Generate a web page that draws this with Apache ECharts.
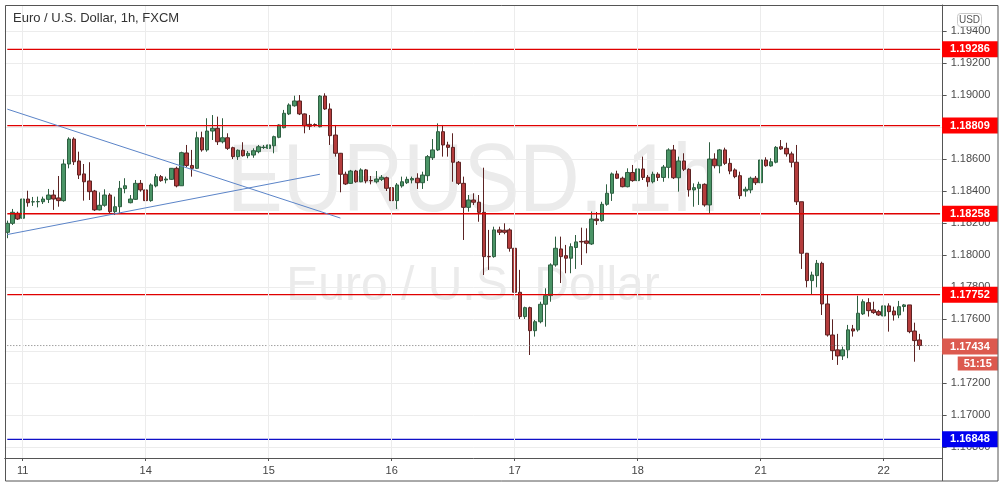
<!DOCTYPE html>
<html><head><meta charset="utf-8">
<script src="https://cdn.jsdelivr.net/npm/echarts@6.0.0/dist/echarts.min.js"></script>
<style>html,body{margin:0;padding:0;background:#fff}#c{width:1005px;height:488px}</style>
</head><body><div id="c"></div>
<script>
// trading sessions: [day, firstHour, lastHour]
const sessions = [['10',21,23],['11',0,20],['13',21,23],['14',0,23],['15',0,23],['16',0,23],['17',0,23],['18',0,20],['20',21,23],['21',0,23],['22',0,7]];
const emptySlots = 4;

const opens = [1.18142,1.18198,1.18261,1.18230,1.18350,1.18332,1.18333,1.18333,1.18348,1.18375,1.18357,1.18340,1.18569,1.18725,1.18588,1.18507,1.18463,1.18400,1.18282,1.18311,1.18375,1.18271,1.18302,1.18415,1.18327,1.18348,1.18448,1.18407,1.18340,1.18432,1.18490,1.18469,1.18473,1.18542,1.18433,1.18638,1.18560,1.18542,1.18733,1.18657,1.18775,1.18792,1.18708,1.18733,1.18671,1.18615,1.18655,1.18621,1.18625,1.18646,1.18672,1.18667,1.18683,1.18736,1.18796,1.18882,1.18933,1.18963,1.18882,1.18817,1.18816,1.18802,1.18994,1.18913,1.18750,1.18636,1.18505,1.18448,1.18525,1.18458,1.18532,1.18466,1.18458,1.18473,1.18483,1.18421,1.18340,1.18432,1.18452,1.18469,1.18480,1.18452,1.18496,1.18608,1.18657,1.18771,1.18688,1.18673,1.18580,1.18448,1.18298,1.18344,1.18330,1.18267,1.17991,1.17990,1.18157,1.18155,1.18157,1.18042,1.17767,1.17615,1.17671,1.17527,1.17583,1.17692,1.17746,1.17938,1.18038,1.17996,1.17980,1.18047,1.18085,1.18088,1.18069,1.18225,1.18215,1.18317,1.18386,1.18507,1.18480,1.18427,1.18516,1.18465,1.18538,1.18486,1.18458,1.18505,1.18485,1.18548,1.18657,1.18483,1.18588,1.18536,1.18407,1.18417,1.18442,1.18313,1.18600,1.18558,1.18657,1.18573,1.18532,1.18496,1.18400,1.18407,1.18480,1.18452,1.18594,1.18557,1.18580,1.18677,1.18667,1.18632,1.18580,1.18333,1.18011,1.17840,1.17871,1.17948,1.17694,1.17500,1.17407,1.17369,1.17407,1.17538,1.17532,1.17632,1.17702,1.17657,1.17646,1.17619,1.17682,1.17650,1.17625,1.17678,1.17688,1.17525,1.17469];
const closes = [1.18198,1.18267,1.18225,1.18350,1.18327,1.18333,1.18334,1.18350,1.18375,1.18350,1.18340,1.18569,1.18725,1.18583,1.18500,1.18458,1.18396,1.18282,1.18311,1.18375,1.18271,1.18302,1.18417,1.18433,1.18350,1.18448,1.18407,1.18340,1.18438,1.18490,1.18465,1.18475,1.18542,1.18432,1.18640,1.18560,1.18542,1.18733,1.18657,1.18775,1.18792,1.18708,1.18733,1.18667,1.18615,1.18655,1.18621,1.18636,1.18652,1.18677,1.18674,1.18688,1.18740,1.18813,1.18886,1.18938,1.18963,1.18882,1.18808,1.18805,1.18810,1.18994,1.18913,1.18746,1.18636,1.18505,1.18444,1.18525,1.18458,1.18532,1.18463,1.18464,1.18475,1.18486,1.18417,1.18340,1.18438,1.18458,1.18473,1.18478,1.18452,1.18500,1.18615,1.18657,1.18771,1.18688,1.18673,1.18580,1.18448,1.18298,1.18344,1.18330,1.18267,1.17990,1.17989,1.18157,1.18142,1.18142,1.18042,1.17767,1.17615,1.17671,1.17527,1.17583,1.17692,1.17746,1.17938,1.18042,1.17990,1.17980,1.18052,1.18082,1.18082,1.18073,1.18225,1.18215,1.18317,1.18386,1.18507,1.18480,1.18427,1.18516,1.18465,1.18538,1.18485,1.18458,1.18505,1.18485,1.18550,1.18657,1.18483,1.18588,1.18536,1.18407,1.18421,1.18442,1.18313,1.18600,1.18558,1.18657,1.18573,1.18525,1.18490,1.18371,1.18411,1.18480,1.18452,1.18594,1.18558,1.18583,1.18673,1.18663,1.18632,1.18580,1.18333,1.18011,1.17840,1.17875,1.17948,1.17694,1.17500,1.17402,1.17369,1.17407,1.17532,1.17525,1.17636,1.17708,1.17652,1.17640,1.17625,1.17682,1.17646,1.17625,1.17677,1.17688,1.17521,1.17465,1.17434];
const lows = [1.18105,1.18188,1.18219,1.18225,1.18302,1.18307,1.18298,1.18319,1.18325,1.18282,1.18302,1.18333,1.18542,1.18563,1.18475,1.18340,1.18344,1.18275,1.18279,1.18302,1.18257,1.18250,1.18257,1.18386,1.18323,1.18344,1.18396,1.18319,1.18333,1.18423,1.18458,1.18448,1.18469,1.18423,1.18432,1.18550,1.18490,1.18538,1.18646,1.18646,1.18719,1.18688,1.18698,1.18657,1.18600,1.18594,1.18615,1.18605,1.18608,1.18636,1.18663,1.18583,1.18636,1.18730,1.18792,1.18875,1.18927,1.18875,1.18761,1.18782,1.18802,1.18798,1.18907,1.18688,1.18615,1.18392,1.18438,1.18444,1.18452,1.18455,1.18448,1.18442,1.18448,1.18463,1.18400,1.18282,1.18288,1.18421,1.18444,1.18448,1.18413,1.18413,1.18463,1.18594,1.18650,1.18615,1.18615,1.18458,1.18438,1.18094,1.18271,1.18313,1.18208,1.17875,1.17907,1.17983,1.18125,1.18130,1.18021,1.17688,1.17600,1.17600,1.17375,1.17490,1.17573,1.17552,1.17708,1.17927,1.17825,1.17886,1.17886,1.17913,1.17938,1.18011,1.18063,1.18188,1.18208,1.18308,1.18338,1.18475,1.18423,1.18423,1.18458,1.18458,1.18469,1.18427,1.18448,1.18463,1.18458,1.18480,1.18475,1.18396,1.18525,1.18365,1.18302,1.18313,1.18302,1.18261,1.18542,1.18511,1.18563,1.18505,1.18480,1.18350,1.18365,1.18386,1.18438,1.18423,1.18552,1.18552,1.18573,1.18657,1.18615,1.18548,1.18313,1.17913,1.17798,1.17750,1.17798,1.17625,1.17490,1.17344,1.17313,1.17344,1.17355,1.17490,1.17521,1.17625,1.17615,1.17632,1.17619,1.17552,1.17521,1.17590,1.17605,1.17646,1.17511,1.17333,1.17407];
const highs = [1.18215,1.18288,1.18271,1.18365,1.18402,1.18363,1.18365,1.18365,1.18413,1.18407,1.18494,1.18598,1.18736,1.18736,1.18646,1.18569,1.18580,1.18407,1.18392,1.18411,1.18386,1.18365,1.18463,1.18480,1.18375,1.18469,1.18469,1.18423,1.18448,1.18507,1.18500,1.18490,1.18544,1.18552,1.18646,1.18688,1.18657,1.18771,1.18771,1.18855,1.18875,1.18865,1.18855,1.18761,1.18677,1.18660,1.18705,1.18650,1.18667,1.18688,1.18688,1.18708,1.18746,1.18817,1.18907,1.18948,1.18996,1.19000,1.18885,1.18875,1.18823,1.19000,1.19011,1.18948,1.18813,1.18638,1.18521,1.18532,1.18532,1.18542,1.18538,1.18494,1.18525,1.18500,1.18490,1.18458,1.18450,1.18490,1.18490,1.18490,1.18511,1.18521,1.18625,1.18725,1.18823,1.18813,1.18708,1.18761,1.18588,1.18490,1.18375,1.18386,1.18375,1.18546,1.18157,1.18177,1.18177,1.18198,1.18167,1.18044,1.17907,1.17677,1.17677,1.17594,1.17708,1.17792,1.17948,1.18115,1.18115,1.18063,1.18073,1.18125,1.18171,1.18167,1.18272,1.18269,1.18333,1.18442,1.18516,1.18527,1.18490,1.18542,1.18563,1.18620,1.18615,1.18500,1.18521,1.18517,1.18563,1.18667,1.18688,1.18615,1.18636,1.18542,1.18448,1.18458,1.18448,1.18705,1.18636,1.18663,1.18671,1.18605,1.18542,1.18521,1.18427,1.18490,1.18494,1.18611,1.18611,1.18605,1.18681,1.18719,1.18702,1.18646,1.18688,1.18333,1.18013,1.17896,1.17969,1.17958,1.17750,1.17598,1.17507,1.17427,1.17563,1.17563,1.17746,1.17723,1.17730,1.17708,1.17657,1.17698,1.17698,1.17677,1.17713,1.17694,1.17688,1.17577,1.17507];

const redLevels = [1.19286, 1.18809, 1.18258, 1.17752];
const blueLevels = [1.16848];
const lastPrice = 1.17434;
const countdown = '51:15';
// trend lines: [[candle index, price], [candle index, price]]
const trendLines = [[[0, 1.18912], [65, 1.18231]], [[0, 1.18128], [61, 1.18505]]];
const yMin = 1.16731, yMax = 1.19563;
const FONT = 'Liberation Sans';

const categories = [];
sessions.forEach(([d, h0, h1]) => { for (let h = h0; h <= h1; h++) categories.push(d + ' ' + String(h).padStart(2, '0')); });
for (let k = 0; k < emptySlots; k++) categories.push('pad' + k);
const isDayStart = (i, v) => typeof v === 'string' && v.endsWith(' 00');
const dayStarts = categories.filter((v, i) => isDayStart(i, v));
const candles = opens.map((o, i) => [o, closes[i], lows[i], highs[i]]);
const nulls = categories.map(() => null);

// horizontal level drawn as a flat line series with an end label
function levelSeries(v, color, type, width, label) {
  return {
    type: 'line', data: categories.map(() => v), z: 4, silent: true, symbol: 'none', showSymbol: false,
    clip: false, color: color, itemStyle: { color: color },
    lineStyle: { color: color, width: width, type: type, opacity: 1 },
    emphasis: { disabled: true },
    endLabel: Object.assign({ show: true, distance: 2 }, label)
  };
}
const boxLabel = (bg, text) => ({
  formatter: text, backgroundColor: bg, color: '#fff',
  fontWeight: 'bold', fontSize: 11, fontFamily: FONT, padding: [2, 8, 2, 8], lineHeight: 12
});

const overlays = [];
overlays.push({
  type: 'line', data: nulls, z: 3, silent: true, symbol: 'none', clip: false,
  markLine: { silent: true, precision: 5, symbol: ['none', 'none'], animation: false, label: { show: false },
    lineStyle: { color: '#5b84c8', width: 1, type: 'solid' },
    data: trendLines.map(([p, q]) => [{ coord: [categories[p[0]], p[1]] }, { coord: [categories[q[0]], q[1]] }]) }
});
redLevels.forEach(v => overlays.push(levelSeries(v, '#e00000', 'solid', 1.3, boxLabel('#ff0000', v.toFixed(5)))));
blueLevels.forEach(v => overlays.push(levelSeries(v, '#1010c8', 'solid', 1.3, boxLabel('#0000f0', v.toFixed(5)))));
overlays.push(levelSeries(lastPrice, '#777777', [1, 2], 1, {
  formatter: '{sp| }\n{a|' + lastPrice.toFixed(5) + '}\n{gap| }\n{b|' + countdown + '}',
  rich: {
    sp: { height: 19, lineHeight: 19, fontSize: 1 },
    gap: { height: 5, lineHeight: 5, fontSize: 1 },
    a: { backgroundColor: '#dc5a4f', color: '#fff', fontWeight: 'bold', fontSize: 11, fontFamily: FONT, padding: [2, 8, 2, 8], height: 12, lineHeight: 12 },
    b: { backgroundColor: '#dc5a4f', color: '#fff', fontWeight: 'bold', fontSize: 11, fontFamily: FONT, padding: [1, 6, 1, 6], height: 12, lineHeight: 12, align: 'right' }
  }
}));

const chart = echarts.init(document.getElementById('c'), null, { renderer: 'canvas' });
chart.setOption({
  animation: false,
  backgroundColor: '#ffffff',
  title: { text: 'Euro / U.S. Dollar, 1h, FXCM', left: 13, top: 12, padding: 0,
    textStyle: { fontFamily: FONT, fontSize: 13, fontWeight: 'normal', color: '#333' } },
  grid: { left: 4.74, right: 62.36, top: 5, bottom: 30, containLabel: false, outerBoundsMode: 'none' },
  xAxis: {
    type: 'category', data: categories, boundaryGap: true,
    axisLine: { lineStyle: { color: '#555' } },
    axisTick: { show: true, alignWithLabel: true, interval: isDayStart, length: 3, lineStyle: { color: '#555' } },
    axisLabel: { interval: isDayStart, formatter: v => v.split(' ')[0], color: '#444', fontSize: 11, fontFamily: FONT, margin: 7 },
    splitLine: { show: false }
  },
  yAxis: {
    type: 'value', position: 'right', min: yMin, max: yMax, splitNumber: 14,
    axisLine: { show: true, lineStyle: { color: '#555' } },
    axisTick: { show: true, length: 4, lineStyle: { color: '#555' } },
    axisLabel: { formatter: v => v.toFixed(5), showMinLabel: false, showMaxLabel: false, color: '#4a4a4a', fontSize: 11, fontFamily: FONT, margin: 8 },
    splitLine: { show: true, lineStyle: { color: '#ececec', width: 1 } }
  },
  graphic: [
    { type: 'text', x: 473, y: 185, scaleX: 0.87, z: 0, silent: true,
      style: { text: 'EURUSD, 1h', font: '96px "Liberation Sans"', fill: '#ebebeb', align: 'center', verticalAlign: 'middle' } },
    { type: 'text', x: 473, y: 287, z: 0, silent: true,
      style: { text: 'Euro / U.S. Dollar', font: '48px "Liberation Sans"', fill: '#ebebeb', align: 'center', verticalAlign: 'middle' } },
    { type: 'rect', z: 100, silent: true, shape: { x: 5.5, y: 5.5, width: 992.5, height: 475.5 }, style: { fill: 'none', stroke: '#555', lineWidth: 1 } },
    { type: 'line', z: 100, silent: true, shape: { x1: 942.5, y1: 458, x2: 942.5, y2: 481 }, style: { stroke: '#555', lineWidth: 1 } },
    { type: 'rect', z: 100, silent: true, shape: { x: 957.5, y: 13.5, width: 24, height: 13, r: 3 }, style: { fill: '#fff', stroke: '#c9c9c9', lineWidth: 1 } },
    { type: 'text', z: 101, silent: true, x: 969.5, y: 20.5, style: { text: 'USD', font: '10px "Liberation Sans"', fill: '#555', align: 'center', verticalAlign: 'middle' } }
  ],
  series: [
    { type: 'line', data: nulls, z: 1, silent: true, symbol: 'none',
      markLine: { silent: true, symbol: ['none', 'none'], label: { show: false }, animation: false,
        lineStyle: { color: '#ececec', width: 1, type: 'solid' },
        data: dayStarts.map(c => ({ xAxis: c })) } },
    { type: 'candlestick', data: candles, z: 2, barWidth: 4,
      itemStyle: { color: '#4a9466', color0: '#b43c3c', borderColor: '#2e5f41', borderColor0: '#5c2323', borderWidth: 1 } }
  ].concat(overlays)
});
</script></body></html>
